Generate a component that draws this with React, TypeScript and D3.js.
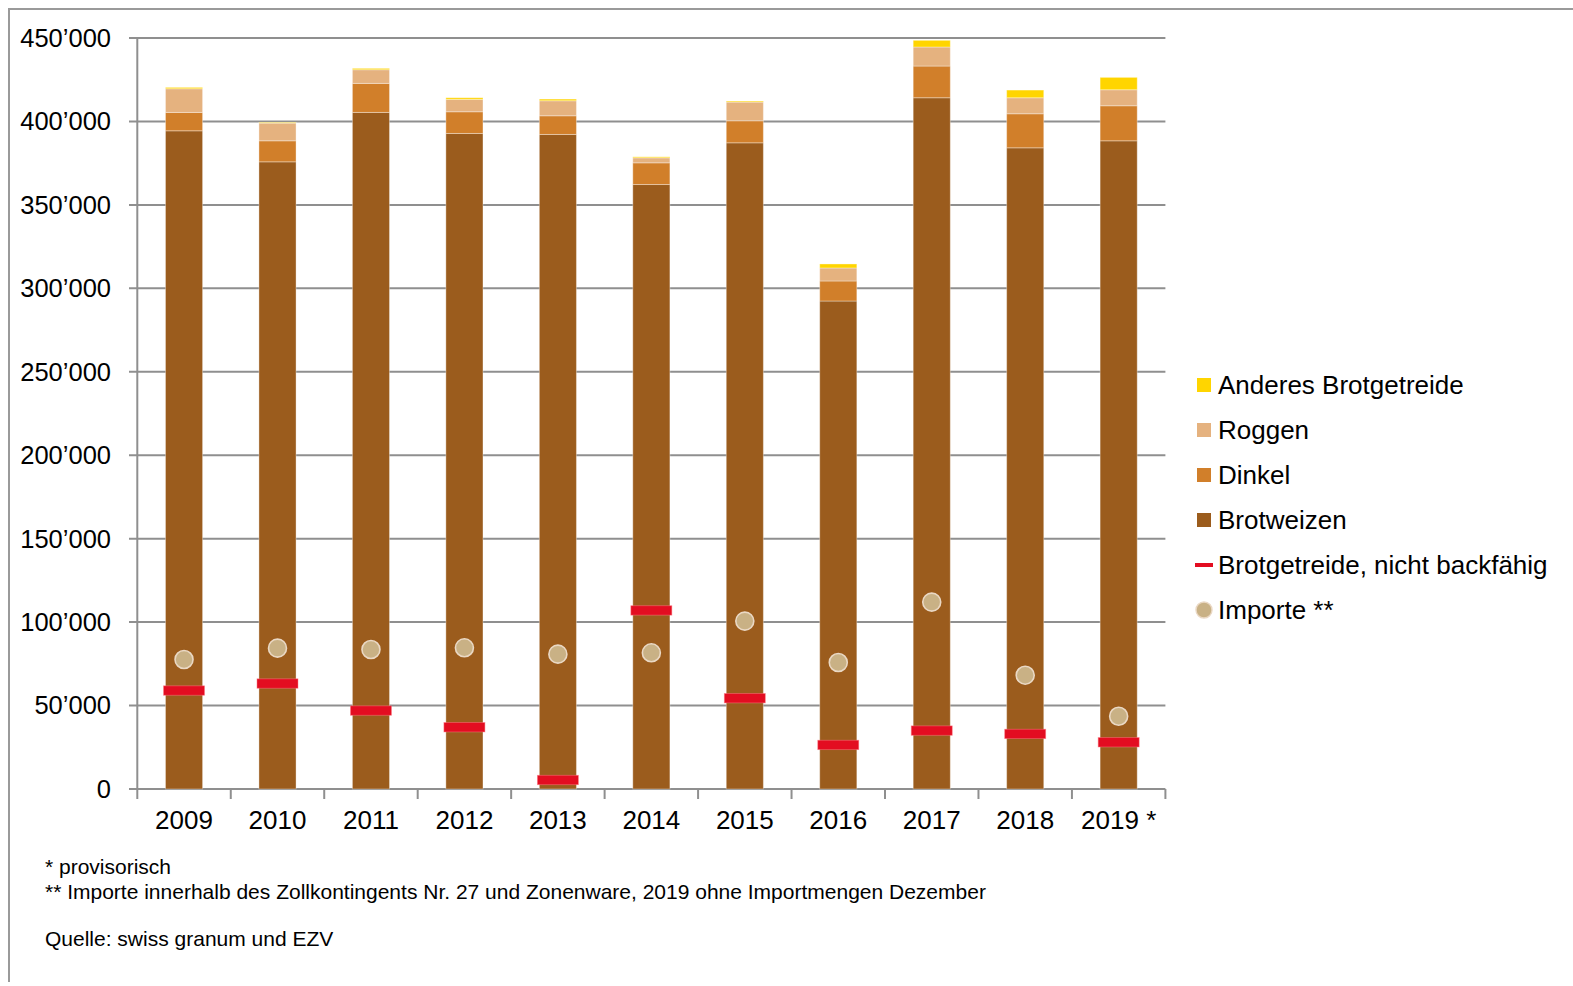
import React from "react";
import * as d3 from "d3";

const years = ["2009", "2010", "2011", "2012", "2013", "2014", "2015", "2016", "2017", "2018", "2019 *"];
const brotweizen = [394400, 375800, 405400, 392800, 392200, 362200, 387200, 292400, 414200, 384200, 388400];
const dinkel = [11000, 12600, 17400, 13000, 11200, 13000, 13200, 12000, 19000, 20400, 21000];
const roggen = [14200, 10600, 8200, 7400, 9000, 3000, 11200, 7800, 11400, 9600, 9600];
const anderes = [800, 400, 800, 1000, 1000, 600, 600, 2400, 4000, 4600, 7400];
const nichtBackfaehig = [59000, 63200, 47000, 37000, 5400, 107000, 54400, 26400, 35000, 33000, 28000];
const importe = [77600, 84400, 83600, 84600, 80800, 81600, 100600, 75800, 112000, 68200, 43600];
const yTicks = [0, 50000, 100000, 150000, 200000, 250000, 300000, 350000, 400000, 450000];
const footnotes = [
  "* provisorisch",
  "** Importe innerhalb des Zollkontingents Nr. 27 und Zonenware, 2019 ohne Importmengen Dezember",
];
const source = "Quelle: swiss granum und EZV";

const seriesKeys = ["brotweizen", "dinkel", "roggen", "anderes"];
const seriesColors: Record<string, string> = {
  brotweizen: "#9b5c1d",
  dinkel: "#d17f2a",
  roggen: "#e5b27f",
  anderes: "#ffd500",
};
const legendItems = [
  { label: "Anderes Brotgetreide", type: "rect", color: "#ffd500" },
  { label: "Roggen", type: "rect", color: "#e5b27f" },
  { label: "Dinkel", type: "rect", color: "#d17f2a" },
  { label: "Brotweizen", type: "rect", color: "#9b5c1d" },
  { label: "Brotgetreide, nicht backfähig", type: "line", color: "#e30d21" },
  { label: "Importe **", type: "circle", color: "#c9b185" },
];

const FONT = "'Liberation Sans', Arial, sans-serif";
const GRID = "#8f8f8f";

export default function App() {
  const x = d3.scaleBand<string>().domain(years).range([137.3, 1165.4]).padding(0);
  const y = d3.scaleLinear().domain([0, 450000]).range([789, 38]);
  const bw = x.bandwidth();
  const barW = bw * 0.397;

  const table = years.map((yr, i) => ({
    year: yr,
    brotweizen: brotweizen[i],
    dinkel: dinkel[i],
    roggen: roggen[i],
    anderes: anderes[i],
  }));
  const stacked = d3.stack<any>().keys(seriesKeys)(table);
  const fmt = (v: number) => (v === 0 ? "0" : d3.format(",")(v).replace(/,/g, "\u2019"));
  const x0 = x.range()[0];
  const x1 = x.range()[1];

  return (
    <svg width={1573} height={986} style={{ position: "absolute", left: 0, top: 0, background: "#fff" }}>
      {/* frame */}
      <line x1={8} x2={1573} y1={9} y2={9} stroke="#9a9a9a" strokeWidth={2} />
      <line x1={9} x2={9} y1={8} y2={982} stroke="#9a9a9a" strokeWidth={2} />

      {/* gridlines */}
      {yTicks.map((t) => (
        <g key={t}>
          <line x1={129} x2={x1} y1={y(t)} y2={y(t)} stroke={GRID} strokeWidth={2} />
          <text x={111} y={y(t)} dy="0.35em" textAnchor="end" fontFamily={FONT} fontSize={25.5} fill="#000">
            {fmt(t)}
          </text>
        </g>
      ))}
      {/* y axis */}
      <line x1={x0} x2={x0} y1={y(450000)} y2={y(0)} stroke={GRID} strokeWidth={2} />
      {/* x ticks */}
      {years.map((yr) => (
        <line key={yr} x1={x(yr) as number} x2={x(yr) as number} y1={y(0)} y2={y(0) + 10} stroke={GRID} strokeWidth={2} />
      ))}
      <line x1={x1} x2={x1} y1={y(0)} y2={y(0) + 10} stroke={GRID} strokeWidth={2} />

      {/* bars */}
      {stacked.map((s) => (
        <g key={s.key} fill={seriesColors[s.key]}>
          {s.map((d, i) => (
            <rect
              key={i}
              x={(x(years[i]) as number) + (bw - barW) / 2}
              y={y(d[1])}
              width={barW}
              height={y(d[0]) - y(d[1])}
              stroke="rgba(255,255,255,0.35)"
              strokeWidth={1}
            />
          ))}
        </g>
      ))}

      {/* nicht backfähig markers */}
      {nichtBackfaehig.map((v, i) => (
        <rect
          key={i}
          x={(x(years[i]) as number) + bw / 2 - 20.5}
          y={y(v) - 4.7}
          width={41}
          height={9.4}
          fill="#e30d21"
          stroke="rgba(255,120,130,0.6)"
          strokeWidth={0.8}
        />
      ))}

      {/* importe points */}
      {importe.map((v, i) => (
        <circle
          key={i}
          cx={(x(years[i]) as number) + bw / 2}
          cy={y(v)}
          r={9}
          fill="#c9b185"
          stroke="#ead8c4"
          strokeWidth={1.6}
        />
      ))}

      {/* x labels */}
      {years.map((yr) => (
        <text
          key={yr}
          x={(x(yr) as number) + bw / 2}
          y={829}
          textAnchor="middle"
          fontFamily={FONT}
          fontSize={26}
          fill="#000"
        >
          {yr}
        </text>
      ))}

      {/* legend */}
      {legendItems.map((it, i) => {
        const cy = 385 + i * 45;
        return (
          <g key={it.label}>
            {it.type === "rect" && <rect x={1197} y={cy - 7} width={14} height={14} fill={it.color} />}
            {it.type === "line" && <rect x={1195} y={cy - 2} width={18} height={4} fill={it.color} />}
            {it.type === "circle" && (
              <circle cx={1204} cy={cy} r={8} fill={it.color} stroke="#ead8c4" strokeWidth={1.4} />
            )}
            <text x={1218} y={cy} dy="0.35em" fontFamily={FONT} fontSize={26} fill="#000">
              {it.label}
            </text>
          </g>
        );
      })}

      {/* footnotes */}
      {footnotes.map((f, i) => (
        <text key={i} x={45} y={874 + i * 24.5} fontFamily={FONT} fontSize={21} fill="#000">
          {f}
        </text>
      ))}
      <text x={45} y={946} fontFamily={FONT} fontSize={21} fill="#000">
        {source}
      </text>
    </svg>
  );
}
